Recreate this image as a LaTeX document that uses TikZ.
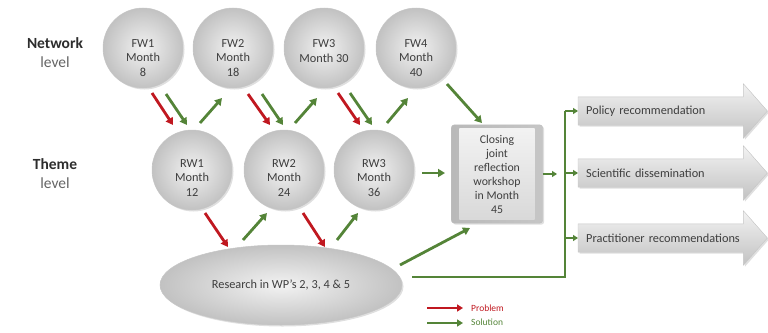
\documentclass[tikz,border=0pt]{standalone}
\usepackage{fontspec}
\setmainfont{Carlito}
\usetikzlibrary{arrows.meta,shadows,calc,backgrounds,shapes.geometric}
\definecolor{arrred}{RGB}{192,24,32}
\definecolor{arrgreen}{RGB}{84,132,56}
\definecolor{txtgray}{RGB}{62,62,62}
\definecolor{labdark}{RGB}{45,45,45}
\definecolor{labgray}{RGB}{100,100,100}
\tikzset{
  wsnode/.style={circle, minimum size=80pt, inner sep=0pt, draw=gray!45, line width=0.5pt,
    inner color=gray!10, outer color=gray!48,
    drop shadow={opacity=0.25, shadow xshift=1.5pt, shadow yshift=-1.5pt}},
  wstext/.style={align=center, inner sep=0pt, font=\fontsize{12.3}{14.5}\selectfont, text=txtgray},
  resnode/.style={ellipse, minimum width=242pt, minimum height=80pt, inner sep=0pt,
    font=\fontsize{12.3}{14.5}\selectfont, text=txtgray, draw=gray!45, line width=0.5pt,
    inner color=gray!10, outer color=gray!48,
    drop shadow={opacity=0.25, shadow xshift=1.5pt, shadow yshift=-1.5pt}},
  closenode/.style={rectangle, minimum width=91pt, minimum height=98pt, inner sep=0pt,
    align=center, font=\fontsize{11.8}{14}\selectfont, text=txtgray},
  outnode/.style={rectangle, minimum width=165pt, minimum height=28pt, text width=149pt,
    inner xsep=8pt, inner ysep=0pt, align=left, anchor=west,
    font=\fontsize{12.3}{14}\selectfont, text=txtgray},
  arrowshape/.style={top color=gray!10, bottom color=gray!48, draw=gray!45, line width=0.4pt,
    drop shadow={opacity=0.25, shadow xshift=1.5pt, shadow yshift=-1.5pt}},
  redarr/.style={draw=arrred, line width=2.8pt, -{Triangle[length=7pt,width=8pt]}},
  grnarr/.style={draw=arrgreen, line width=2.8pt, -{Triangle[length=7pt,width=8pt]}},
  grnline/.style={draw=arrgreen, line width=2.2pt},
  grnsmall/.style={draw=arrgreen, line width=2.2pt, -{Triangle[length=5pt,width=6pt]}},
  lablevel/.style={align=center, font=\fontsize{15.5}{19}\selectfont, text=labgray},
}
\begin{document}
\begin{tikzpicture}[x=1pt,y=-1pt]
\useasboundingbox (0,0) rectangle (768,332);

% level labels
\node[lablevel] (netlab) at (55,53) {\textcolor{labdark}{\bfseries Network}\\level};
\node[lablevel] (themelab) at (55,174) {\textcolor{labdark}{\bfseries Theme}\\level};

% workshops
\node[wsnode] (fw1) at (143,48) {};
\node[wsnode] (fw2) at (233,48) {};
\node[wsnode] (fw3) at (324,48) {};
\node[wsnode] (fw4) at (416,48) {};
\node[wsnode] (rw1) at (192,170) {};
\node[wsnode] (rw2) at (284,170) {};
\node[wsnode] (rw3) at (374,170) {};
\node[wstext] (fw1t) at ([yshift=-10pt]fw1.center) {FW1\\Month\\8};
\node[wstext] (fw2t) at ([yshift=-10pt]fw2.center) {FW2\\Month\\18};
\node[wstext] (fw3t) at ([yshift=-3pt]fw3.center) {FW3\\Month 30};
\node[wstext] (fw4t) at ([yshift=-10pt]fw4.center) {FW4\\Month\\40};
\node[wstext] (rw1t) at ([yshift=-8pt]rw1.center) {RW1\\Month\\12};
\node[wstext] (rw2t) at ([yshift=-8pt]rw2.center) {RW2\\Month\\24};
\node[wstext] (rw3t) at ([yshift=-8pt]rw3.center) {RW3\\Month\\36};
\node[resnode] (res) at (281,285) {Research in WP's 2, 3, 4 \& 5};

% closing workshop box
\node[closenode] (close) at (497,174) {Closing\\joint\\reflection\\workshop\\in Month\\45};
\begin{scope}[on background layer]
  \shade[left color=gray!55, right color=gray!45, draw=gray!50, line width=0.4pt, rounded corners=3pt,
    drop shadow={opacity=0.25, shadow xshift=1.5pt, shadow yshift=-1.5pt}]
    (close.north west) rectangle (close.south east);
  \shade[top color=gray!10, bottom color=gray!30]
    ([shift={(8,4)}]close.north west) rectangle ([shift={(-8,-4)}]close.south east);
\end{scope}

% output arrows
\node[outnode] (pol) at (578,111) {\mbox{Policy recommendation}};
\node[outnode] (sci) at (578,173) {\mbox{Scientific dissemination}};
\node[outnode] (pra) at (578,238) {\mbox{Practitioner recommendations}};
\begin{scope}[on background layer]
  \foreach \n in {pol,sci,pra}{
    \shade[arrowshape] (\n.north west) -- (\n.north east) -- ++(0,-13)
      -- ($(\n.east)+(24,0)$) -- ($(\n.south east)+(0,13)$) -- (\n.south east)
      -- (\n.south west) -- cycle;
  }
\end{scope}

% upper arrows
\draw[redarr] ([shift={(9,45)}]fw1.center) -- ([shift={(-19,-45)}]rw1.center);
\draw[grnarr] ([shift={(23,46)}]fw1.center) -- ([shift={(-5,-45)}]rw1.center);
\draw[grnarr] ([shift={(8,-47)}]rw1.center) -- ([shift={(-11,50)}]fw2.center);
\draw[redarr] ([shift={(15,46)}]fw2.center) -- ([shift={(-14,-45)}]rw2.center);
\draw[grnarr] ([shift={(29,46)}]fw2.center) -- ([shift={(-1,-45)}]rw2.center);
\draw[grnarr] ([shift={(11,-47)}]rw2.center) -- ([shift={(-7,50)}]fw3.center);
\draw[redarr] ([shift={(14,45)}]fw3.center) -- ([shift={(-14,-45)}]rw3.center);
\draw[grnarr] ([shift={(26,45)}]fw3.center) -- ([shift={(-2,-45)}]rw3.center);
\draw[grnarr] ([shift={(13,-47)}]rw3.center) -- ([shift={(-8,50)}]fw4.center);
\draw[grnarr] ([shift={(31,36)}]fw4.center) -- ([shift={(-15,-51)}]close.center);
\draw[grnarr] ([shift={(48,3)}]rw3.center) -- ([shift={(-52,-1)}]close.center);

% lower arrows
\draw[redarr] ([shift={(13,43)}]rw1.center) -- ([shift={(-53,-38)}]res.center);
\draw[grnarr] ([shift={(-38,-45)}]res.center) -- ([shift={(-17,43)}]rw2.center);
\draw[redarr] ([shift={(19,43)}]rw2.center) -- ([shift={(44,-38)}]res.center);
\draw[grnarr] ([shift={(56,-45)}]res.center) -- ([shift={(-16,43)}]rw3.center);
\draw[grnarr] ([shift={(119,-20)}]res.center) -- ([shift={(-27,54)}]close.center);

% distribution line
\coordinate (jb) at (565,277);
\coordinate (jt) at (565,111);
\coordinate (cend) at (557,174);
\draw[grnsmall] (close.east) -- (cend);
\draw[grnline] ([shift={(131,-8)}]res.center) -- (jb) -- (jt);
\draw[grnsmall] (jt) -- (pol.west);
\draw[grnsmall] (jt |- sci.west) -- (sci.west);
\draw[grnsmall] (jt |- pra.west) -- (pra.west);

% legend
\coordinate (lr1) at (427,308);
\coordinate (lr2) at (463,308);
\coordinate (lg1) at (427,323);
\coordinate (lg2) at (463,323);
\draw[draw=arrred, line width=2.2pt, -{Triangle[length=6pt,width=7pt]}] (lr1) -- (lr2);
\draw[draw=arrgreen, line width=2.2pt, -{Triangle[length=6pt,width=7pt]}] (lg1) -- (lg2);
\node[anchor=west, font=\fontsize{9.5}{10}\selectfont, text=arrred, inner sep=0pt] (lprob) at (471,308) {Problem};
\node[anchor=west, font=\fontsize{9.5}{10}\selectfont, text=arrgreen, inner sep=0pt] (lsol) at (471,322) {Solution};
\end{tikzpicture}
\end{document}
